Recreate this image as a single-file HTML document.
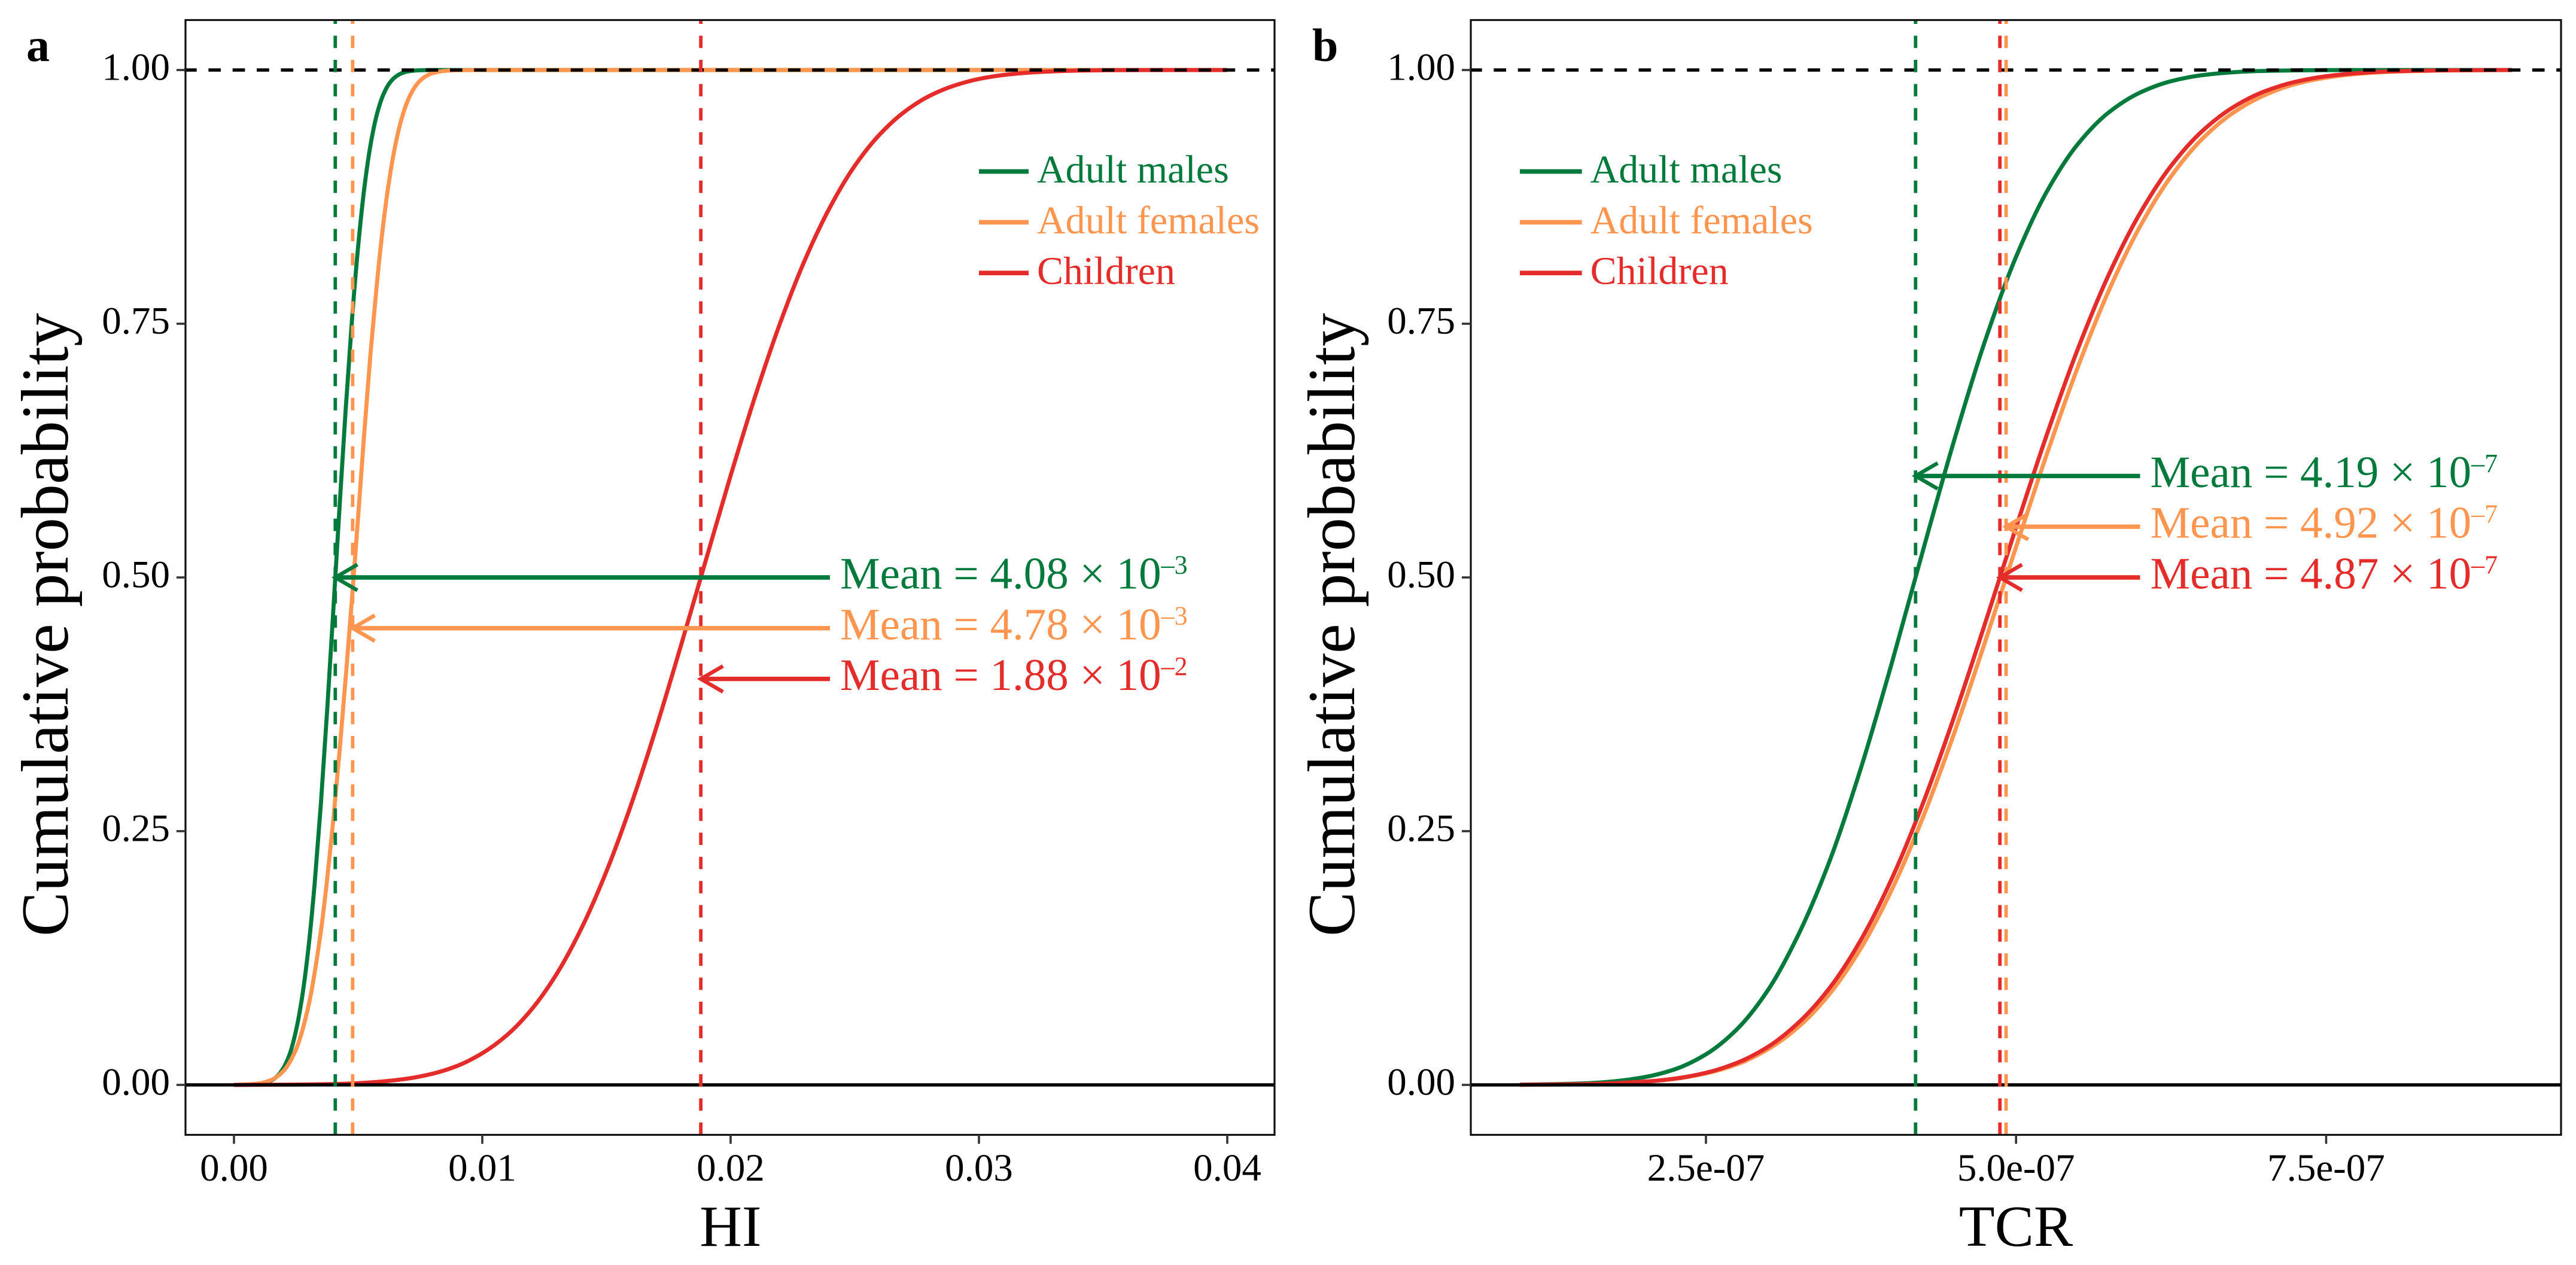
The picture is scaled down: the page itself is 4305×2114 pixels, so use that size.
<!DOCTYPE html>
<html lang="en">
<head>
<meta charset="utf-8">
<title>Cumulative probability of HI and TCR</title>
<style>
html,body{margin:0;padding:0;background:#fff;}
svg{display:block;font-family:"Liberation Serif","Times New Roman",serif;}
</style>
</head>
<body>
<svg id="figure" xmlns="http://www.w3.org/2000/svg" width="4305" height="2114" viewBox="0 0 4305 2114">
<rect x="0" y="0" width="4305" height="2114" fill="#ffffff"/>
<g id="panelA"></g>
<g id="panelB"></g>
<text x="44" y="102" font-size="78" font-weight="bold">a</text>
<text x="2193" y="102" font-size="78" font-weight="bold">b</text>
<text x="1221" y="2082" font-size="98" text-anchor="middle">HI</text>
<text x="3369" y="2082" font-size="98" text-anchor="middle">TCR</text>
<text transform="translate(113,1044) rotate(-90)" font-size="112" text-anchor="middle">Cumulative probability</text>
<text transform="translate(2263,1044) rotate(-90)" font-size="112" text-anchor="middle">Cumulative probability</text>
</svg>
<script>
// ---- shared data ----
const probTicks = [0, 0.25, 0.5, 0.75, 1];
const probTickLabels = ["0.00", "0.25", "0.50", "0.75", "1.00"];
const groupNames = ["Adult males", "Adult females", "Children"];
const groupKeys = ["adult-males", "adult-females", "children"];
const groupColors = ["#017a3c", "#ff954f", "#e42c2b"];

// ---- panel a: HI (x values in units of 1e-3) ----
const hiTicks = [0, 10, 20, 30, 40];
const hiTickLabels = ["0.00", "0.01", "0.02", "0.03", "0.04"];
const hiMalesX = [0, 0.5, 1, 1.25, 1.5, 1.75, 2, 2.25, 2.5, 2.75, 3, 3.25, 3.5, 3.75, 4, 4.25, 4.5, 4.75, 5, 5.25, 5.5, 5.75, 6, 6.25, 6.5, 6.75, 7, 7.5, 8, 40];
const hiMalesP = [0, 0.0001, 0.0008, 0.0019, 0.0043, 0.0087, 0.017, 0.0307, 0.0537, 0.0874, 0.1352, 0.1985, 0.2769, 0.3681, 0.4673, 0.5687, 0.666, 0.753, 0.8261, 0.8838, 0.9263, 0.9558, 0.9749, 0.9866, 0.9932, 0.9968, 0.9986, 0.9998, 1, 1];
const hiFemalesX = [0, 0.5, 1, 1.5, 2, 2.5, 3, 3.5, 4, 4.25, 4.5, 4.75, 5, 5.25, 5.5, 5.75, 6, 6.25, 6.5, 6.75, 7, 7.25, 7.5, 7.75, 8, 8.5, 9, 10, 40];
const hiFemalesP = [0, 0.0004, 0.0014, 0.0048, 0.0139, 0.0351, 0.0778, 0.1515, 0.2611, 0.3282, 0.4013, 0.4781, 0.5596, 0.6434, 0.7211, 0.7881, 0.8454, 0.8912, 0.9262, 0.952, 0.9699, 0.9819, 0.9896, 0.9942, 0.9969, 0.9992, 0.9998, 1, 1];
const hiChildrenX = [0, 2, 4, 5, 6, 7, 8, 9, 10, 11, 12, 13, 14, 15, 16, 17, 18, 19, 20, 21, 22, 23, 24, 25, 26, 27, 28, 29, 30, 31, 32, 33, 34, 36, 38, 40];
const hiChildrenP = [0, 0.0002, 0.0008, 0.0017, 0.0034, 0.0062, 0.011, 0.0188, 0.0312, 0.0492, 0.0748, 0.1095, 0.1546, 0.2104, 0.2766, 0.3516, 0.4329, 0.5168, 0.6003, 0.6794, 0.7511, 0.8133, 0.8647, 0.9056, 0.9364, 0.9588, 0.9744, 0.9846, 0.9912, 0.9951, 0.9974, 0.9987, 0.9994, 0.9999, 1, 1];
const hiMeans = [4.08, 4.78, 18.8];
const hiArrowP = [0.5, 0.45, 0.4];
const hiMeanLabels = ["Mean = 4.08 × 10", "Mean = 4.78 × 10", "Mean = 1.88 × 10"];
const hiMeanExps = ["–3", "–3", "–2"];
const hiArrowStart = 24;
const hiLegendX = [30, 32];

// ---- panel b: TCR (x values in units of 1e-7) ----
const tcrTicks = [2.5, 5, 7.5];
const tcrTickLabels = ["2.5e-07", "5.0e-07", "7.5e-07"];
const tcrMalesX = [1, 1.5, 1.75, 2, 2.25, 2.5, 2.75, 3, 3.25, 3.5, 3.75, 4, 4.25, 4.5, 4.75, 5, 5.25, 5.5, 5.75, 6, 6.25, 6.5, 6.75, 7, 7.5, 8, 9];
const tcrMalesP = [0.0002, 0.0014, 0.0034, 0.0075, 0.0154, 0.0301, 0.0548, 0.0934, 0.1492, 0.2216, 0.3124, 0.4164, 0.5267, 0.6346, 0.733, 0.8159, 0.8806, 0.9273, 0.9585, 0.9778, 0.989, 0.9949, 0.9978, 0.9991, 0.9999, 1, 1];
const tcrFemalesX = [1, 1.5, 2, 2.25, 2.5, 2.75, 3, 3.25, 3.5, 3.75, 4, 4.25, 4.5, 4.75, 5, 5.25, 5.5, 5.75, 6, 6.25, 6.5, 6.75, 7, 7.25, 7.5, 7.75, 8, 8.5, 9];
const tcrFemalesP = [0.0001, 0.0006, 0.003, 0.0059, 0.0113, 0.0202, 0.0351, 0.0576, 0.0901, 0.1348, 0.1927, 0.2637, 0.346, 0.4364, 0.53, 0.6221, 0.7078, 0.7832, 0.8459, 0.8952, 0.932, 0.9578, 0.975, 0.9861, 0.9925, 0.9962, 0.9982, 0.9996, 1];
const tcrChildrenX = [1, 1.5, 2, 2.25, 2.5, 2.75, 3, 3.25, 3.5, 3.75, 4, 4.25, 4.5, 4.75, 5, 5.25, 5.5, 5.75, 6, 6.25, 6.5, 6.75, 7, 7.25, 7.5, 7.75, 8, 8.5, 9];
const tcrChildrenP = [0.0001, 0.0007, 0.0032, 0.0062, 0.0119, 0.0217, 0.0375, 0.0618, 0.096, 0.143, 0.2036, 0.2776, 0.3624, 0.4546, 0.5493, 0.6413, 0.7257, 0.799, 0.859, 0.9056, 0.9397, 0.9633, 0.9788, 0.9883, 0.9939, 0.9969, 0.9986, 0.9997, 1];
const tcrMeans = [4.19, 4.92, 4.87];
const tcrArrowP = [0.6, 0.55, 0.5];
const tcrMeanLabels = ["Mean = 4.19 × 10", "Mean = 4.92 × 10", "Mean = 4.87 × 10"];
const tcrMeanExps = ["–7", "–7", "–7"];
const tcrArrowStart = 6;
const tcrLegendX = [1, 1.5];

const NS = 'http://www.w3.org/2000/svg';
const PANEL_TOP = 33.5, PANEL_BOTTOM = 1896.5;
const yScale = function (p) { return 1813 - p * 1696; };

function make(parent, tag, attrs, text) {
  const el = document.createElementNS(NS, tag);
  for (const k in attrs) el.setAttribute(k, attrs[k]);
  if (text !== undefined) el.textContent = text;
  parent.appendChild(el);
  return el;
}

// monotone cubic path through the data points, in pixel space
function smoothPath(xs, ys) {
  const n = xs.length, m = [], d = [];
  for (let i = 0; i < n - 1; i++) d.push((ys[i + 1] - ys[i]) / ((xs[i + 1] - xs[i]) || 1));
  m.push(d[0]);
  for (let i = 1; i < n - 1; i++) {
    const h0 = xs[i] - xs[i - 1], h1 = xs[i + 1] - xs[i];
    if (d[i - 1] * d[i] <= 0) {
      m.push(0);
    } else {
      const w1 = 2 * h1 + h0, w2 = h1 + 2 * h0;
      m.push((w1 + w2) / (w1 / d[i - 1] + w2 / d[i]));
    }
  }
  m.push(d[n - 2]);
  let s = 'M' + xs[0].toFixed(2) + ' ' + ys[0].toFixed(2);
  for (let i = 0; i < n - 1; i++) {
    const h = (xs[i + 1] - xs[i]) / 3;
    s += 'C' + (xs[i] + h).toFixed(2) + ' ' + (ys[i] + m[i] * h).toFixed(2) + ' ' +
      (xs[i + 1] - h).toFixed(2) + ' ' + (ys[i + 1] - m[i + 1] * h).toFixed(2) + ' ' +
      xs[i + 1].toFixed(2) + ' ' + ys[i + 1].toFixed(2);
  }
  return s;
}

function drawPanel(cfg) {
  const g = cfg.root, xScale = cfg.xScale, L = cfg.left, R = cfg.right;

  // curves
  cfg.curves.forEach(function (c, i) {
    const path = make(g, 'path', {
      d: smoothPath(c[0].map(xScale), c[1].map(yScale)),
      fill: 'none', stroke: groupColors[i], 'stroke-width': 6.8
    });
    
    
  });

  // reference lines
  const refTop = make(g, 'line', { x1: L - 2, x2: R, y1: yScale(1), y2: yScale(1), stroke: '#000', 'stroke-width': 5.4, 'stroke-dasharray': '20.7 19.66' });
  
  
  const refZero = make(g, 'line', { x1: L, x2: R, y1: yScale(0), y2: yScale(0), stroke: '#000', 'stroke-width': 5.4 });
  
  

  // mean lines
  cfg.means.forEach(function (v, i) {
    const line = make(g, 'line', { x1: xScale(v), x2: xScale(v), y1: PANEL_BOTTOM, y2: PANEL_TOP, stroke: groupColors[i], 'stroke-width': 5.8, 'stroke-dasharray': '20.7 19.66' });
    
    
  });

  // arrows + annotations
  cfg.means.forEach(function (v, i) {
    const y = yScale(cfg.arrowP[i]), tip = xScale(v), start = xScale(cfg.arrowStart);
    const shaft = make(g, 'line', { x1: start, x2: tip, y1: y, y2: y, stroke: groupColors[i], 'stroke-width': 7.4 });
    
    
    const head = make(g, 'polyline', {
      points: (tip + 37) + ',' + (y - 21.5) + ' ' + tip + ',' + y + ' ' + (tip + 37) + ',' + (y + 21.5),
      fill: 'none', stroke: groupColors[i], 'stroke-width': 6.4
    });
    
    
    const label = make(g, 'text', { x: start + cfg.labelGap, y: y + 18.5, 'font-size': 75, fill: groupColors[i] });
    
    
    make(label, 'tspan', {}, cfg.meanLabels[i]);
    make(label, 'tspan', { dy: -25, 'font-size': 44 }, cfg.meanExps[i]);
  });

  // legend
  groupNames.forEach(function (name, i) {
    const y = yScale(0.9 - i * 0.05);
    const key = make(g, 'line', { x1: xScale(cfg.legendX[0]), x2: xScale(cfg.legendX[1]), y1: y, y2: y, stroke: groupColors[i], 'stroke-width': 7.6 });
    
    
    const txt = make(g, 'text', { x: xScale(cfg.legendX[1]) + 14, y: y + 18.5, 'font-size': 66, fill: groupColors[i] }, name);
    
    
  });

  // panel border
  const border = make(g, 'rect', { x: L, y: PANEL_TOP, width: R - L, height: PANEL_BOTTOM - PANEL_TOP, fill: 'none', stroke: '#111', 'stroke-width': 3.2 });
  
  

  // y axis
  probTicks.forEach(function (p, i) {
    const y = yScale(p);
    const tick = make(g, 'line', { x1: L - 15, x2: L, y1: y, y2: y, stroke: '#333', 'stroke-width': 3.6 });
    
    
    const lab = make(g, 'text', { x: L - 26, y: y + 16.5, 'font-size': 65, 'text-anchor': 'end', fill: '#000' }, probTickLabels[i]);
    
    
  });

  // x axis
  cfg.xTicks.forEach(function (v, i) {
    const x = xScale(v);
    const tick = make(g, 'line', { x1: x, x2: x, y1: PANEL_BOTTOM, y2: PANEL_BOTTOM + 15, stroke: '#333', 'stroke-width': 3.6 });
    
    
    const lab = make(g, 'text', { x: x, y: 1973, 'font-size': 65, 'text-anchor': 'middle', fill: '#000' }, cfg.xTickLabels[i]);
    
    
  });
}

drawPanel({
  root: document.getElementById('panelA'),
  left: 310, right: 2130,
  xScale: function (v) { return 391 + v * 41.5; },
  curves: [[hiMalesX, hiMalesP], [hiFemalesX, hiFemalesP], [hiChildrenX, hiChildrenP]],
  means: hiMeans, arrowP: hiArrowP, arrowStart: hiArrowStart, labelGap: 17,
  meanLabels: hiMeanLabels, meanExps: hiMeanExps,
  legendX: hiLegendX,
  xTicks: hiTicks, xTickLabels: hiTickLabels
});

drawPanel({
  root: document.getElementById('panelB'),
  left: 2458, right: 4280,
  xScale: function (v) { return 2332.7 + v * 207.3; },
  curves: [[tcrMalesX, tcrMalesP], [tcrFemalesX, tcrFemalesP], [tcrChildrenX, tcrChildrenP]],
  means: tcrMeans, arrowP: tcrArrowP, arrowStart: tcrArrowStart, labelGap: 17,
  meanLabels: tcrMeanLabels, meanExps: tcrMeanExps,
  legendX: tcrLegendX,
  xTicks: tcrTicks, xTickLabels: tcrTickLabels
});
</script>
</body>
</html>
